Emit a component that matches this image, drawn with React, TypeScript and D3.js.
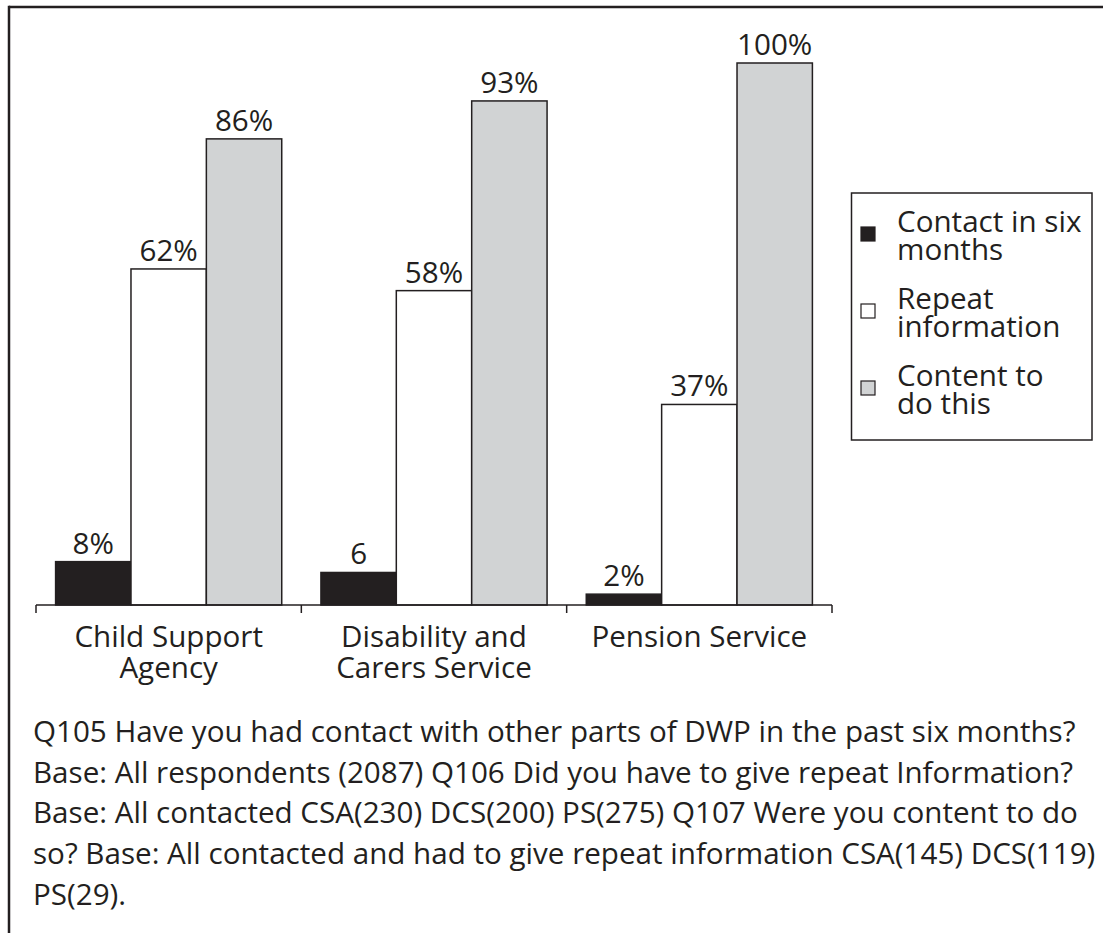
import React from "react";
import * as d3 from "d3";

const categories = [["Child Support", "Agency"], ["Disability and", "Carers Service"], ["Pension Service"]];
const seriesNames = [["Contact in six", "months"], ["Repeat", "information"], ["Content to", "do this"]];
const contactValues = [8, 6, 2];
const repeatValues = [62, 58, 37];
const contentValues = [86, 93, 100];
const contactLabels = ["8%", "6", "2%"];
const repeatLabels = ["62%", "58%", "37%"];
const contentLabels = ["86%", "93%", "100%"];
const footnoteLines = [
  "Q105 Have you had contact with other parts of DWP in the past six months?",
  "Base: All respondents (2087) Q106 Did you have to give repeat Information?",
  "Base: All contacted CSA(230) DCS(200) PS(275) Q107 Were you content to do",
  "so? Base: All contacted and had to give repeat information CSA(145) DCS(119)",
  "PS(29).",
];

const INK = "#231f20";
const GRAY = "#d1d3d4";
const FONT = "'Open Sans', sans-serif";
const FS = 29.6;

const seriesFills = [INK, "#ffffff", GRAY];
const seriesValues = [contactValues, repeatValues, contentValues];
const seriesLabels = [contactLabels, repeatLabels, contentLabels];

export default function App() {
  const W = 1103;
  const H = 933;
  const baseY = 605;
  const x0 = d3.scaleBand<number>().domain(d3.range(categories.length)).range([36, 832]).paddingInner(0).paddingOuter(0);
  const x1 = d3.scaleBand<number>().domain(d3.range(seriesValues.length)).range([0, x0.bandwidth()]).paddingInner(0).paddingOuter(0.26);
  const y = d3.scaleLinear().domain([0, 100]).range([baseY, 63]);

  const ticks = [...x0.domain().map((i) => x0(i)!), 832];

  const legendX = 851.5;
  const legendY = 193;
  const legendW = 240.5;
  const legendH = 247;
  const lineH = 27.5;
  const legendRow = d3.scaleLinear().domain([0, 2]).range([232, 386]);

  return (
    <svg width={W} height={H} style={{ position: "absolute", left: 0, top: 0 }} fontFamily={FONT}>
      <rect x={0} y={0} width={W} height={H} fill="#fff" />
      {/* frame */}
      <line x1={9} x2={W} y1={7} y2={7} stroke={INK} strokeWidth={2.5} />
      <line x1={9} x2={9} y1={5.75} y2={H} stroke={INK} strokeWidth={2.5} />

      {/* bars */}
      {categories.map((_, ci) => (
        <g key={ci} transform={`translate(${x0(ci)},0)`}>
          {seriesValues.map((vals, si) => {
            const bx = x1(si)!;
            const by = y(vals[ci]);
            return (
              <g key={si}>
                <rect
                  x={bx}
                  y={by}
                  width={x1.bandwidth()}
                  height={baseY - by}
                  fill={seriesFills[si]}
                  stroke={INK}
                  strokeWidth={1.5}
                />
                <text
                  x={bx + x1.bandwidth() / 2}
                  y={by - 8}
                  textAnchor="middle"
                  fontSize={FS}
                  fill={INK}
                >
                  {seriesLabels[si][ci]}
                </text>
              </g>
            );
          })}
        </g>
      ))}

      {/* axis */}
      <line x1={36} x2={832} y1={baseY} y2={baseY} stroke={INK} strokeWidth={1.5} />
      {ticks.map((t, i) => (
        <line key={i} x1={t} x2={t} y1={baseY} y2={baseY + 8} stroke={INK} strokeWidth={1.5} />
      ))}
      {categories.map((lines, ci) => (
        <text key={ci} textAnchor="middle" fontSize={FS} fill={INK}>
          {lines.map((l, li) => (
            <tspan key={li} x={x0(ci)! + x0.bandwidth() / 2} y={647 + li * 31}>
              {l}
            </tspan>
          ))}
        </text>
      ))}

      {/* legend */}
      <rect x={legendX} y={legendY} width={legendW} height={legendH} fill="#fff" stroke={INK} strokeWidth={1.5} />
      {seriesNames.map((lines, si) => {
        const top = legendRow(si);
        return (
          <g key={si}>
            <rect
              x={861}
              y={top - 5}
              width={14}
              height={14}
              fill={seriesFills[si]}
              stroke={INK}
              strokeWidth={1.2}
            />
            <text fontSize={FS} fill={INK}>
              {lines.map((l, li) => (
                <tspan key={li} x={897} y={top + li * lineH}>
                  {l}
                </tspan>
              ))}
            </text>
          </g>
        );
      })}

      {/* footnote */}
      <text fontSize={FS} fill={INK}>
        {footnoteLines.map((l, i) => (
          <tspan key={i} x={33} y={742 + i * 40.7}>
            {l}
          </tspan>
        ))}
      </text>
    </svg>
  );
}
